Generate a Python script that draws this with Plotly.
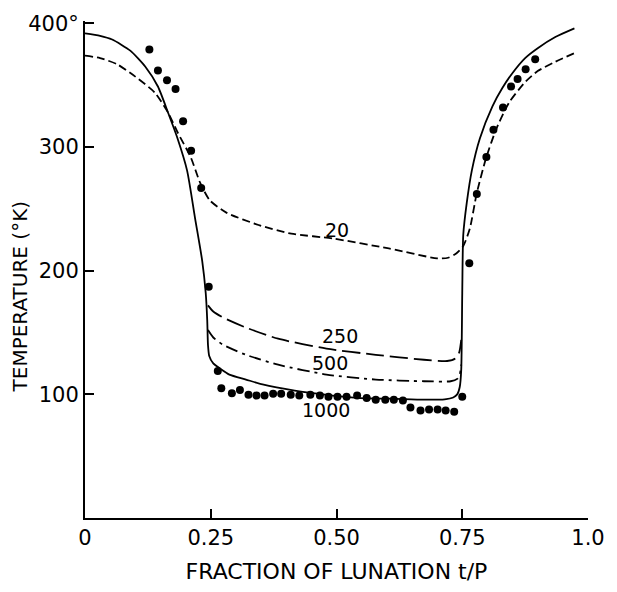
import plotly.graph_objects as go

# ---- data ----
x_tick_vals = [0, 0.25, 0.5, 0.75, 1.0]
x_tick_text = ["0", "0.25", "0.50", "0.75", "1.0"]
y_tick_vals = [100, 200, 300, 400]
y_tick_text = ["100", "200", "300", "400°"]

# k = 1000 (solid; the daytime branch is shared with 250 and 500)
x_1000 = [0, 0.03, 0.054, 0.09, 0.12, 0.145, 0.165, 0.184, 0.203, 0.219, 0.233, 0.240,
          0.243, 0.2445, 0.247, 0.255, 0.268, 0.287, 0.32, 0.353, 0.417, 0.481,
          0.546, 0.61, 0.674, 0.715, 0.732, 0.740, 0.745, 0.748, 0.750, 0.752,
          0.759, 0.769, 0.785, 0.81, 0.83, 0.85, 0.875, 0.90, 0.935, 0.973]
y_1000 = [392, 390, 387, 378, 365, 349, 328, 307, 281, 242, 208, 182,
          160, 140, 131, 125, 121, 116, 112, 108, 103, 99.6,
          97, 96.5, 95.7, 96, 97.5, 100, 106, 120, 182, 229,
          255, 281, 307, 333, 348, 360, 372, 380, 389, 396]

# k = 500 (dash-dot, night branch)
x_500 = [0.2445, 0.255, 0.275, 0.32, 0.384, 0.48, 0.578, 0.674, 0.727, 0.740, 0.745, 0.748]
y_500 = [152, 146, 140, 132, 124, 116, 112, 110.6, 110.6, 112.5, 116, 124]

# k = 250 (long dash, night branch)
x_250 = [0.2445, 0.255, 0.275, 0.32, 0.384, 0.48, 0.578, 0.674, 0.72, 0.736, 0.744, 0.748]
y_250 = [172, 167, 162, 154, 145, 137, 132, 128, 127, 129, 134, 144]

# k = 20 (short dash)
x_20 = [0, 0.03, 0.064, 0.10, 0.139, 0.165, 0.184, 0.21, 0.229, 0.248, 0.281, 0.345,
        0.41, 0.494, 0.604, 0.70, 0.722, 0.738, 0.752, 0.765, 0.779, 0.798, 0.818,
        0.843, 0.876, 0.90, 0.935, 0.973]
y_20 = [374, 372, 367, 357, 344, 328, 312, 292, 271, 257, 247, 237,
        230, 226, 218, 210, 210.5, 214, 220, 234, 263, 292, 315,
        336, 353, 361.5, 369, 376]

# observations
x_obs = [0.128, 0.145, 0.163, 0.18, 0.195, 0.211, 0.231, 0.246,
         0.264, 0.271, 0.292, 0.308, 0.325, 0.341, 0.357, 0.374, 0.39, 0.409,
         0.426, 0.448, 0.467, 0.484, 0.502, 0.52, 0.541, 0.56, 0.578, 0.597,
         0.614, 0.632, 0.647, 0.667, 0.684, 0.701, 0.717, 0.734, 0.75,
         0.764, 0.779, 0.798, 0.812, 0.831, 0.847, 0.86, 0.876, 0.895]
y_obs = [379, 362, 354, 347, 321, 297, 267, 187,
         119, 105, 101, 103.5, 99.6, 99, 99, 100.4, 100.4, 99.6,
         99, 99.6, 99, 98, 98, 98, 99, 97, 95.7, 95.7,
         95.7, 95, 89.4, 87, 87.8, 87.8, 87, 86, 98,
         206, 262, 292, 314, 332, 349, 355, 363, 371]

# curve labels
lab_text = ["20", "250", "500", "1000"]
lab_x = [0.50, 0.507, 0.488, 0.48]
lab_y = [233, 147, 125, 87]

FONT = "DejaVu Sans"
SM = 0.6

fig = go.Figure()
fig.add_trace(go.Scatter(x=x_1000, y=y_1000, mode="lines",
                         line=dict(color="black", width=1.8, shape="spline", smoothing=SM)))
fig.add_trace(go.Scatter(x=x_500, y=y_500, mode="lines",
                         line=dict(color="black", width=1.8, dash="12px,5px,3px,5px",
                                   shape="spline", smoothing=SM)))
fig.add_trace(go.Scatter(x=x_250, y=y_250, mode="lines",
                         line=dict(color="black", width=1.8, dash="18px,6px",
                                   shape="spline", smoothing=SM)))
fig.add_trace(go.Scatter(x=x_20, y=y_20, mode="lines",
                         line=dict(color="black", width=1.8, dash="8px,4px",
                                   shape="spline", smoothing=SM)))
fig.add_trace(go.Scatter(x=x_obs, y=y_obs, mode="markers",
                         marker=dict(color="black", size=8)))

for t, xx, yy in zip(lab_text, lab_x, lab_y):
    fig.add_annotation(x=xx, y=yy, text=t, showarrow=False,
                       font=dict(family=FONT, size=19, color="black"))

# y-axis title (placed as rotated text left of the tick labels)
fig.add_annotation(xref="paper", yref="paper", x=-0.13, y=0.445,
                   text="TEMPERATURE (°K)", textangle=-90, showarrow=False,
                   xanchor="center", yanchor="middle",
                   font=dict(family=FONT, size=20, color="black"))

fig.update_layout(
    width=617, height=592,
    margin=dict(l=85, r=16, t=15, b=67),
    paper_bgcolor="white", plot_bgcolor="white",
    showlegend=False,
    font=dict(family=FONT, size=21, color="black"),
    xaxis=dict(range=[0, 1.0], showgrid=False, zeroline=False,
               showline=True, linecolor="black", linewidth=2,
               ticks="inside", ticklen=9, tickwidth=2, tickcolor="black",
               tickvals=x_tick_vals, ticktext=x_tick_text,
               tickfont=dict(family=FONT, size=21), ticklabeloverflow="allow",
               title=dict(text="FRACTION OF LUNATION t/P", standoff=14,
                          font=dict(family=FONT, size=22))),
    yaxis=dict(range=[0, 402], showgrid=False, zeroline=False,
               showline=True, linecolor="black", linewidth=2,
               ticks="inside", ticklen=9, tickwidth=2, tickcolor="black",
               tickvals=y_tick_vals, ticktext=y_tick_text,
               tickfont=dict(family=FONT, size=21), ticklabeloverflow="allow"),
)

fig.write_html("out.html")
